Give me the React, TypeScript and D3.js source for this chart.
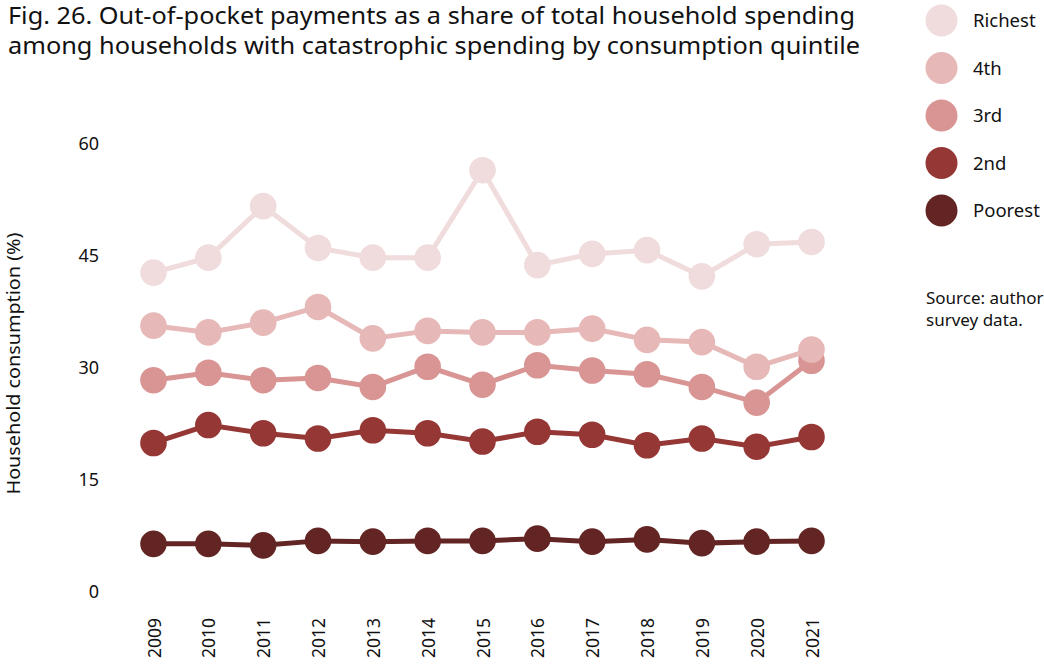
import React, { useEffect, useRef } from "react";
import * as d3 from "d3";

const years = ["2009","2010","2011","2012","2013","2014","2015","2016","2017","2018","2019","2020","2021"];
const richest = [42.7, 44.7, 51.6, 46.0, 44.7, 44.7, 56.4, 43.7, 45.2, 45.7, 42.2, 46.5, 46.8];
const fourth = [35.6, 34.7, 36.0, 38.1, 33.9, 34.9, 34.7, 34.7, 35.2, 33.7, 33.4, 30.1, 32.4];
const third = [28.3, 29.3, 28.3, 28.6, 27.4, 30.1, 27.7, 30.3, 29.6, 29.1, 27.4, 25.3, 30.9];
const second = [19.9, 22.3, 21.2, 20.5, 21.6, 21.2, 20.1, 21.4, 21.0, 19.6, 20.5, 19.4, 20.7];
const poorest = [6.4, 6.4, 6.2, 6.8, 6.7, 6.8, 6.8, 7.1, 6.7, 7.0, 6.5, 6.7, 6.8];
const yTicks = [0, 15, 30, 45, 60];
const seriesNames = ["Richest", "4th", "3rd", "2nd", "Poorest"];
const seriesColors = ["#f0dcdc", "#e6b8b7", "#d99594", "#953735", "#632523"];
const seriesValues = [richest, fourth, third, second, poorest];

const titleLines = [
  "Fig. 26. Out-of-pocket payments as a share of total household spending",
  "among households with catastrophic spending by consumption quintile",
];
const titleWidths = [847, 852];
const sourceLines = ["Source: authors' calculations based on household budget", "survey data."];
const yLabel = "Household consumption (%)";

const W = 1044, H = 666;
const FONT = "'Noto Sans', 'Open Sans', sans-serif";

export default function App() {
  const ref = useRef<SVGSVGElement>(null);
  useEffect(() => {
    const svg = d3.select(ref.current);
    svg.selectAll("*").remove();

    const x = d3.scalePoint().domain(years).range([153.5, 811.5]);
    const y = d3.scaleLinear().domain([0, 60]).range([591.7, 143.3]);

    // title
    svg.append("g").selectAll("text").data(titleLines).join("text")
      .attr("x", 8).attr("y", (_d, i) => 24 + i * 29.5)
      .attr("font-family", FONT).attr("font-size", 23.5).attr("fill", "#111")
      .attr("textLength", (_d, i) => titleWidths[i]).attr("lengthAdjust", "spacingAndGlyphs")
      .text(d => d);

    // y ticks
    const yAxis = d3.axisLeft(y).tickValues(yTicks).tickSize(0).tickPadding(0);
    const ga = svg.append("g").attr("transform", "translate(99,0)").call(yAxis);
    ga.select(".domain").remove();
    ga.selectAll("text").attr("font-family", FONT).attr("font-size", 18).attr("fill", "#111");

    // y label
    svg.append("text")
      .attr("transform", `translate(20,${363.5}) rotate(-90)`)
      .attr("text-anchor", "middle")
      .attr("font-family", FONT).attr("font-size", 18).attr("fill", "#111")
      .attr("textLength", 262).attr("lengthAdjust", "spacingAndGlyphs")
      .text(yLabel);

    // x ticks
    const xAxis = d3.axisBottom(x).tickSize(0).tickPadding(0);
    const gx = svg.append("g").attr("transform", "translate(0,617)").call(xAxis);
    gx.select(".domain").remove();
    gx.selectAll("text")
      .attr("font-family", FONT).attr("font-size", 17.5).attr("fill", "#111")
      .attr("text-anchor", "end").attr("dy", null)
      .attr("transform", "rotate(-90)").attr("x", -1).attr("y", 6.5);

    // series: poorest first so richest is on top
    const order = [4, 3, 2, 1, 0];
    const line = d3.line<number>().x((_d, i) => x(years[i])!).y(d => y(d));
    order.forEach(si => {
      const g = svg.append("g");
      g.append("path").attr("d", line(seriesValues[si])!)
        .attr("fill", "none").attr("stroke", seriesColors[si]).attr("stroke-width", 5);
      g.selectAll("circle").data(seriesValues[si]).join("circle")
        .attr("cx", (_d, i) => x(years[i])!).attr("cy", d => y(d)).attr("r", 13.3)
        .attr("fill", seriesColors[si]);
    });

    // legend
    const lg = svg.append("g");
    seriesNames.forEach((n, i) => {
      const cy = 20.5 + i * 47.5;
      lg.append("circle").attr("cx", 941.5).attr("cy", cy).attr("r", 16).attr("fill", seriesColors[i]);
      lg.append("text").attr("x", 973).attr("y", cy + 6.5)
        .attr("font-family", FONT).attr("font-size", 18.5).attr("fill", "#111").text(n);
    });

    // source
    svg.append("g").selectAll("text").data(sourceLines).join("text")
      .attr("x", 926).attr("y", (_d, i) => 304 + i * 22)
      .attr("font-family", FONT).attr("font-size", 17).attr("fill", "#111")
      .text(d => d);
  }, []);
  return (
    <svg ref={ref} width={W} height={H}
      style={{ position: "absolute", left: 0, top: 0, background: "#fff" }} />
  );
}
